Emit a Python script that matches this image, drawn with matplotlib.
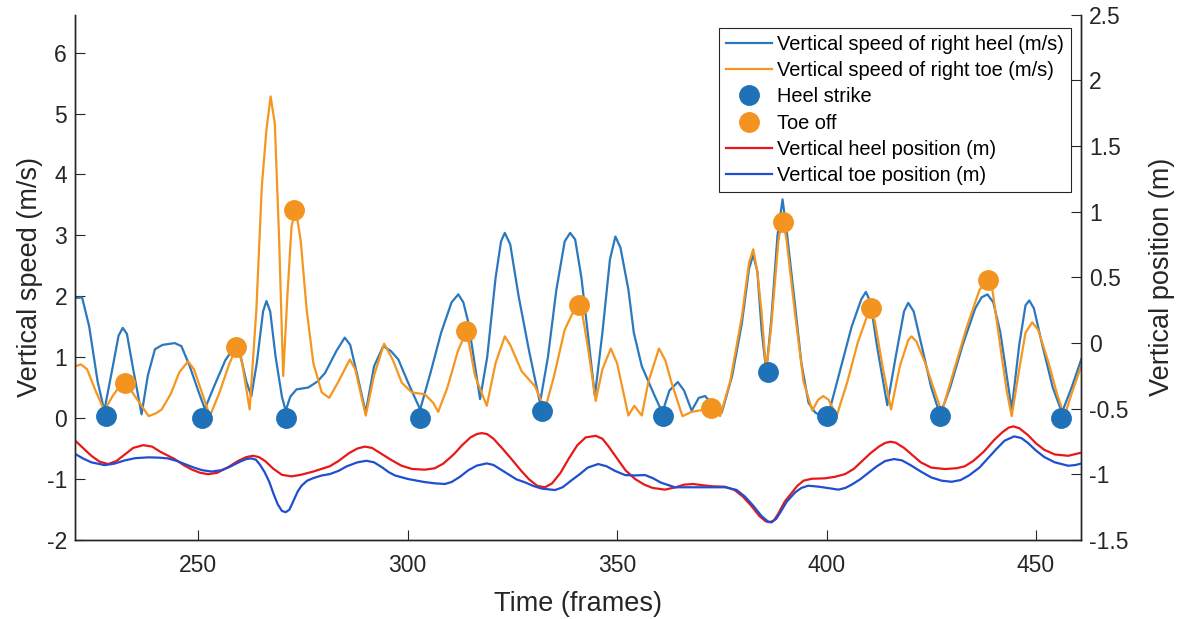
import matplotlib.pyplot as plt

plt.rcParams['font.family'] = ['Liberation Sans', 'DejaVu Sans']
plt.rcParams['axes.unicode_minus'] = False

# vertical speed of right heel (m/s)
heel_speed_t = [220.7, 222.3, 224.0, 226.0, 227.6, 229.5, 231.0, 232.0, 233.0, 234.5,
                236.5, 238.0, 239.7, 241.5, 244.4, 246.0, 248.0, 250.0, 251.6, 254.0,
                256.5, 258.5, 259.8, 261.5, 262.7, 264.0, 265.5, 266.3, 267.2, 268.5,
                270.0, 270.9, 272.0, 273.5, 276.3, 278.5, 280.3, 283.0, 285.0, 286.3,
                288.0, 290.0, 292.0, 294.2, 296.0, 297.8, 300.0, 303.0, 305.5, 308.0,
                310.5, 312.1, 313.3, 314.5, 316.0, 317.3, 319.0, 321.0, 322.3, 323.2,
                324.5, 326.5, 329.0, 331.6, 333.5, 335.5, 337.5, 338.8, 340.0, 341.5,
                343.1, 344.7, 346.5, 348.3, 349.6, 350.8, 352.7, 354.0, 355.9, 359.0,
                360.8, 362.5, 364.5, 366.0, 367.8, 369.5, 371.0, 372.5, 375.0, 377.5,
                379.8, 381.5, 382.5, 383.5, 384.5, 385.6, 386.8, 388.3, 389.5, 390.6,
                392.5, 394.0, 395.7, 397.3, 398.8, 400.4, 401.2, 403.5, 406.0, 408.3,
                409.4, 410.5, 412.0, 414.5, 416.5, 418.5, 419.5, 420.8, 423.0, 425.0,
                427.1, 429.5, 432.5, 435.5, 437.0, 438.4, 439.8, 441.5, 443.0, 444.2,
                446.0, 447.5, 448.4, 449.5, 451.5, 454.0, 456.2, 458.5, 461.1]
heel_speed = [1.97, 1.98, 1.5, 0.6, 0.12, 0.8, 1.35, 1.48, 1.38, 0.8,
              0.06, 0.7, 1.13, 1.2, 1.23, 1.18, 0.85, 0.45, 0.15, 0.55,
              0.95, 1.15, 1.12, 0.6, 0.36, 0.9, 1.75, 1.92, 1.75, 1.0,
              0.35, 0.12, 0.35, 0.47, 0.5, 0.6, 0.74, 1.1, 1.32, 1.2,
              0.7, 0.09, 0.85, 1.18, 1.1, 0.96, 0.6, 0.14, 0.75, 1.4,
              1.9, 2.03, 1.9, 1.57, 0.9, 0.31, 1.0, 2.3, 2.9, 3.04,
              2.85, 2.0, 1.1, 0.25, 1.0, 2.1, 2.9, 3.04, 2.93, 2.3,
              1.34, 0.36, 1.4, 2.6, 2.98, 2.8, 2.11, 1.4, 0.85, 0.36,
              0.09, 0.45, 0.59, 0.45, 0.12, 0.33, 0.36, 0.25, 0.09, 0.7,
              1.56, 2.45, 2.68, 2.4, 1.45, 0.77, 1.6, 3.0, 3.59, 3.0,
              1.84, 0.9, 0.25, 0.09, 0.03, 0.05, 0.25, 0.85, 1.5, 1.95,
              2.07, 1.9, 1.2, 0.21, 1.0, 1.75, 1.89, 1.75, 1.1, 0.5,
              0.05, 0.5, 1.2, 1.8, 1.98, 2.03, 1.9, 1.4, 0.7, 0.14,
              1.2, 1.85, 1.93, 1.8, 1.2, 0.5, 0.09, 0.5, 1.02]

# vertical speed of right toe (m/s)
toe_speed_t = [220.7, 222.0, 223.5, 225.5, 227.6, 229.5, 231.0, 232.5, 234.0, 236.5,
               238.2, 240.0, 241.3, 243.5, 245.5, 247.6, 249.0, 251.0, 252.8, 255.0,
               257.5, 259.3, 260.5, 262.3, 263.9, 265.2, 266.3, 267.3, 268.3, 269.3,
               270.3, 271.3, 272.3, 273.3, 274.5, 275.9, 277.5, 279.5, 281.3, 283.5,
               286.2, 287.5, 290.0, 292.0, 294.4, 296.5, 298.6, 301.0, 304.1, 306.1,
               307.3, 309.5, 312.0, 314.1, 315.0, 316.1, 318.9, 321.0, 323.2, 324.5,
               327.2, 330.4, 332.8, 335.0, 337.5, 340.5, 341.5, 343.1, 344.9, 346.5,
               348.5, 350.0, 352.7, 354.1, 355.0, 355.9, 357.5, 360.0, 361.5, 363.0,
               365.6, 367.8, 371.0, 373.0, 374.6, 377.0, 379.8, 381.5, 382.5, 383.5,
               384.5, 385.6, 386.8, 388.5, 389.5, 390.5, 392.5, 394.5, 396.6, 398.0,
               399.2, 400.5, 402.4, 405.0, 407.5, 410.4, 411.5, 413.5, 415.4, 417.5,
               419.5, 420.3, 421.5, 423.5, 425.5, 427.5, 430.5, 433.5, 436.5, 438.3,
               439.5, 441.8, 443.0, 444.2, 446.0, 447.5, 449.1, 450.5, 453.0, 455.0,
               456.8, 458.5, 461.1]
toe_speed = [0.85, 0.88, 0.8, 0.45, 0.12, 0.35, 0.5, 0.59, 0.45, 0.2,
             0.03, 0.08, 0.14, 0.4, 0.75, 0.93, 0.8, 0.4, 0.03, 0.4,
             0.9, 1.18, 0.9, 0.14, 1.78, 3.8, 4.73, 5.28, 4.84, 3.0,
             0.69, 2.0, 3.15, 3.43, 2.9, 1.78, 0.9, 0.42, 0.33, 0.6,
             0.96, 0.8, 0.04, 0.7, 1.22, 0.95, 0.58, 0.42, 0.39, 0.25,
             0.1, 0.5, 1.1, 1.43, 1.1, 0.69, 0.2, 0.9, 1.34, 1.2,
             0.77, 0.52, 0.14, 0.7, 1.45, 1.88, 1.8, 1.13, 0.28, 0.8,
             1.14, 0.9, 0.04, 0.2, 0.12, 0.04, 0.6, 1.14, 0.95, 0.58,
             0.03, 0.1, 0.14, 0.16, 0.03, 0.6, 1.67, 2.55, 2.77, 2.4,
             1.73, 0.77, 1.5, 2.9, 3.31, 2.9, 1.7, 0.6, 0.12, 0.3,
             0.36, 0.3, 0.03, 0.6, 1.25, 1.81, 1.6, 0.8, 0.14, 0.85,
             1.28, 1.34, 1.25, 0.91, 0.5, 0.1, 0.8, 1.5, 2.1, 2.27,
             2.15, 1.02, 0.45, 0.03, 0.8, 1.4, 1.57, 1.45, 0.91, 0.4,
             0.03, 0.4, 0.91]

# gait events
heel_strike_t = [228, 251, 271, 303, 332, 361, 386, 400, 427, 456]
heel_strike_v = [0.04, 0.0, 0.0, 0.0, 0.11, 0.03, 0.76, 0.03, 0.04, 0.0]
toe_off_t = [232.5, 259, 273, 314, 341, 372.5, 389.5, 410.5, 438.5]
toe_off_v = [0.58, 1.17, 3.42, 1.43, 1.86, 0.17, 3.22, 1.81, 2.27]

# vertical heel position (m), right axis
heel_pos_t = [220.7, 222.5, 224.5, 226.5, 228.5, 230.5, 232.5, 234.5, 236.9, 239.0,
              241.0, 244.4, 246.5, 248.5, 250.5, 252.4, 254.5, 257.0, 259.5, 261.5,
              263.1, 264.5, 266.0, 268.0, 270.0, 272.3, 274.5, 277.5, 281.4, 283.5,
              286.0, 288.0, 289.8, 291.5, 293.5, 296.0, 298.5, 301.0, 304.1, 306.5,
              308.5, 311.0, 313.0, 315.0, 316.5, 317.7, 319.0, 320.5, 322.5, 324.8,
              327.0, 329.0, 331.0, 332.8, 334.5, 336.5, 338.5, 340.5, 342.5, 344.9,
              346.5, 348.0, 350.0, 352.0, 354.3, 356.5, 358.5, 361.4, 364.0, 366.0,
              368.2, 370.5, 373.0, 375.8, 378.0, 380.0, 382.0, 384.0, 385.5, 386.5,
              387.5, 388.5, 390.0, 391.5, 393.0, 394.5, 396.5, 399.6, 402.0, 404.4,
              406.5, 408.5, 410.5, 412.5, 414.0, 415.3, 416.5, 418.5, 420.5, 422.5,
              425.0, 428.3, 431.0, 433.0, 435.0, 437.5, 440.0, 442.0, 443.5, 444.6,
              446.0, 448.0, 450.0, 452.0, 454.5, 457.7, 461.1]
heel_pos = [-0.746, -0.80, -0.86, -0.905, -0.923, -0.90, -0.85, -0.80, -0.779, -0.79,
            -0.83, -0.885, -0.93, -0.965, -0.99, -1.0, -0.99, -0.95, -0.90, -0.87,
            -0.86, -0.87, -0.9, -0.96, -1.005, -1.017, -1.005, -0.98, -0.94, -0.9,
            -0.84, -0.805, -0.79, -0.80, -0.84, -0.89, -0.935, -0.96, -0.966, -0.955,
            -0.92, -0.85, -0.78, -0.72, -0.695, -0.687, -0.695, -0.73, -0.80, -0.885,
            -0.97, -1.04, -1.09, -1.10, -1.07, -0.99, -0.88, -0.78, -0.72, -0.708,
            -0.73, -0.79, -0.88, -0.97, -1.037, -1.08, -1.105, -1.118, -1.10, -1.08,
            -1.075, -1.085, -1.093, -1.096, -1.12, -1.17, -1.24, -1.32, -1.36, -1.367,
            -1.35, -1.30, -1.21, -1.15, -1.09, -1.05, -1.035, -1.032, -1.02, -1.0,
            -0.96, -0.90, -0.84, -0.79, -0.762, -0.753, -0.76, -0.8, -0.855, -0.91,
            -0.95, -0.961, -0.955, -0.94, -0.90, -0.83, -0.74, -0.68, -0.645, -0.636,
            -0.65, -0.7, -0.765, -0.815, -0.85, -0.86, -0.834]

# vertical toe position (m), right axis
toe_pos_t = [220.7, 222.5, 224.5, 227.7, 230.0, 232.5, 235.0, 238.1, 240.5, 242.8,
             245.0, 246.8, 249.0, 251.0, 253.2, 255.5, 257.5, 260.0, 261.5, 262.7,
             263.8, 264.8, 265.9, 267.0, 268.0, 269.0, 270.0, 270.9, 271.8, 272.8,
             273.8, 274.7, 276.0, 277.5, 279.5, 281.4, 283.5, 285.5, 288.0, 290.2,
             292.0, 294.0, 295.5, 297.0, 300.1, 304.0, 306.5, 308.9, 310.5, 312.5,
             314.5, 316.5, 318.9, 320.5, 322.0, 324.0, 326.0, 328.0, 330.0, 332.0,
             335.2, 337.0, 339.0, 341.1, 343.0, 345.5, 347.5, 349.5, 351.9, 354.0,
             356.7, 358.5, 360.5, 363.8, 370.0, 375.8, 378.5, 380.5, 382.5, 384.5,
             386.0, 386.9, 388.0, 389.0, 390.5, 392.5, 394.0, 395.6, 398.0, 400.8,
             402.8, 404.5, 406.0, 408.0, 410.0, 412.0, 414.0, 416.1, 418.0, 420.0,
             422.5, 425.0, 427.5, 429.9, 432.0, 434.0, 436.5, 438.5, 440.5, 442.5,
             444.8, 446.5, 448.0, 450.0, 452.0, 454.5, 457.7, 459.5, 461.1]
toe_pos = [-0.847, -0.88, -0.91, -0.931, -0.92, -0.895, -0.878, -0.872, -0.874, -0.88,
           -0.90, -0.923, -0.95, -0.97, -0.98, -0.97, -0.945, -0.905, -0.885, -0.88,
           -0.89, -0.93, -0.986, -1.06, -1.15, -1.23, -1.28, -1.29, -1.27, -1.2,
           -1.13, -1.088, -1.05, -1.03, -1.01, -1.0, -0.975, -0.94, -0.91, -0.898,
           -0.91, -0.95, -0.985, -1.01, -1.037, -1.06, -1.07, -1.075, -1.06, -1.02,
           -0.97, -0.935, -0.918, -0.93, -0.96, -1.0, -1.04, -1.062, -1.09, -1.11,
           -1.121, -1.10, -1.05, -1.0, -0.95, -0.923, -0.94, -0.975, -1.007, -1.01,
           -1.007, -1.03, -1.065, -1.10, -1.10, -1.10, -1.12, -1.17, -1.24, -1.32,
           -1.36, -1.367, -1.34, -1.29, -1.21, -1.139, -1.105, -1.088, -1.095, -1.108,
           -1.118, -1.105, -1.08, -1.04, -0.99, -0.94, -0.90, -0.885, -0.895, -0.93,
           -0.98, -1.025, -1.05, -1.058, -1.045, -1.01, -0.95, -0.88, -0.81, -0.745,
           -0.712, -0.725, -0.76, -0.82, -0.87, -0.91, -0.936, -0.93, -0.916]

c_heel = '#2a78bd'
c_toe = '#f5961f'
c_hpos = '#e8181a'
c_tpos = '#1f4fcf'
dark = '#262626'

fig = plt.figure(figsize=(11.78, 6.19), dpi=100)
ax = fig.add_axes([0.064, 0.128, 0.8535, 0.848])
ax2 = ax.twinx()

h1, = ax.plot(heel_speed_t, heel_speed, color=c_heel, lw=1.6,
              label='Vertical speed of right heel (m/s)')
h2, = ax.plot(toe_speed_t, toe_speed, color=c_toe, lw=1.6,
              label='Vertical speed of right toe (m/s)')
h3, = ax.plot(heel_strike_t, heel_strike_v, 'o', color='#1f72b8', ms=14,
              label='Heel strike', zorder=5)
h4, = ax.plot(toe_off_t, toe_off_v, 'o', color='#f39420', ms=14,
              label='Toe off', zorder=5)
h5, = ax2.plot(heel_pos_t, heel_pos, color=c_hpos, lw=1.6,
               label='Vertical heel position (m)')
h6, = ax2.plot(toe_pos_t, toe_pos, color=c_tpos, lw=1.6,
               label='Vertical toe position (m)')

ax.set_xlim(220.7, 460.7)
ax.set_ylim(-2, 6.62)
ax2.set_ylim(-1.5, 2.5)
ax.set_xticks([250, 300, 350, 400, 450])
ax.set_yticks(range(-2, 7))
ax2.set_yticks([-1.5, -1, -0.5, 0, 0.5, 1, 1.5, 2, 2.5])
ax2.set_yticklabels(['-1.5', '-1', '-0.5', '0', '0.5', '1', '1.5', '2', '2.5'])

for a in (ax, ax2):
    a.spines['top'].set_visible(False)
    for s in a.spines.values():
        s.set_color(dark)
        s.set_linewidth(1.0)
    a.tick_params(direction='in', length=7, labelsize=16.5, colors=dark, pad=6)
ax.tick_params(axis='x', pad=10)

ax.set_xlabel('Time (frames)', fontsize=19.5, color=dark, labelpad=10)
ax.set_ylabel('Vertical speed (m/s)', fontsize=19.5, color=dark, labelpad=3)
ax2.set_ylabel('Vertical position (m)', fontsize=19.5, color=dark, labelpad=15)

leg = ax2.legend(handles=[h1, h2, h3, h4, h5, h6], loc='upper right',
                 bbox_to_anchor=(0.99, 0.975), borderaxespad=0, fontsize=14.4,
                 handlelength=2.3, handletextpad=0.25, borderpad=0.35,
                 labelspacing=0.36, fancybox=False, framealpha=1,
                 edgecolor=dark)
leg.get_frame().set_linewidth(0.8)

plt.savefig('out.png')
